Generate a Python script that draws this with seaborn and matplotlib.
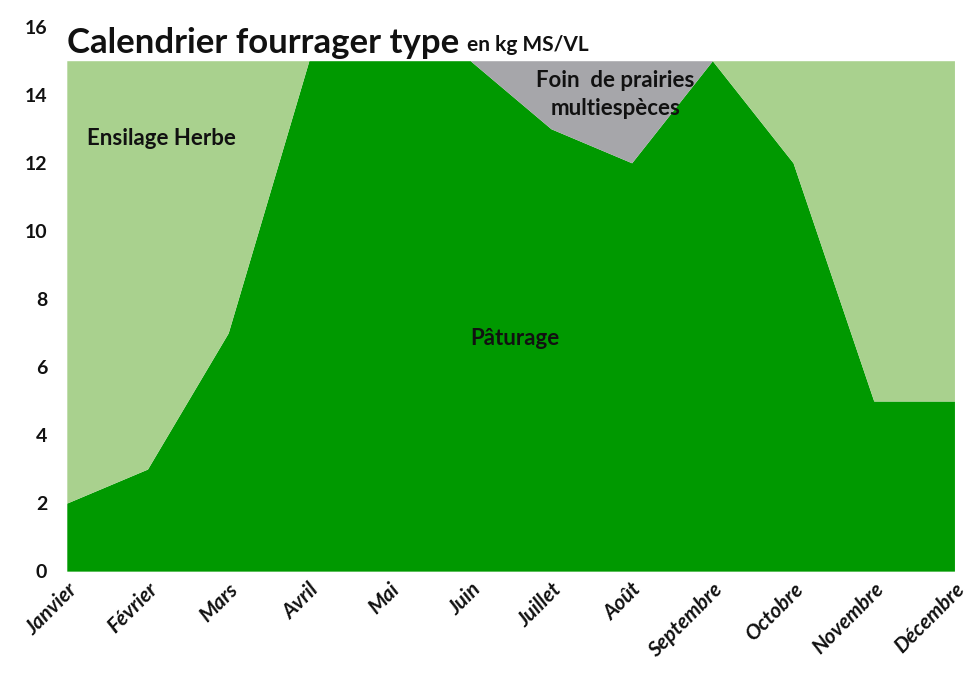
import numpy as np
import pandas as pd
import matplotlib
matplotlib.use("Agg")
import matplotlib.pyplot as plt
import seaborn as sns

mois = ['Janvier', 'Février', 'Mars', 'Avril', 'Mai', 'Juin', 'Juillet',
        'Août', 'Septembre', 'Octobre', 'Novembre', 'Décembre']
paturage = [2, 3, 7, 15, 15, 15, 13, 12, 15, 12, 5, 5]
foin = [0, 0, 0, 0, 0, 0, 2, 3, 0, 0, 0, 0]
ensilage = [13, 12, 8, 0, 0, 0, 0, 0, 0, 3, 10, 10]

sns.set_theme(style="white")
plt.rcParams['font.family'] = ['Lato', 'DejaVu Sans']
plt.rcParams['text.color'] = '#111111'
plt.rcParams['xtick.color'] = '#111111'
plt.rcParams['ytick.color'] = '#111111'

df = pd.DataFrame({'mois': mois, 'Pâturage': paturage,
                   'Foin': foin, 'Ensilage': ensilage})

fig = plt.figure(figsize=(9.68, 6.84), dpi=100)
# right edge pulled in a little so "Décembre" is not clipped
ax = fig.add_axes([0.069, 0.165, 0.917, 0.796])

x = np.arange(len(df))
ax.stackplot(x, df['Pâturage'], df['Foin'], df['Ensilage'],
             colors=['#009900', '#a6a6aa', '#a9d18e'], linewidth=0)

ax.set_xlim(0, len(df) - 1)
ax.set_ylim(0, 16)
ax.set_yticks(range(0, 17, 2))
ax.set_xticks(x)
ax.set_xticklabels(df['mois'], rotation=45, ha='right', rotation_mode='anchor',
                   fontweight='bold', fontstyle='italic', fontsize=15)
for lab in ax.get_yticklabels():
    lab.set_fontweight('bold')
    lab.set_fontsize(14)
ax.tick_params(axis='y', length=0, pad=14)
ax.tick_params(axis='x', length=0, pad=6)
sns.despine(ax=ax, left=True, bottom=True)

ax.text(0.25, 12.7, 'Ensilage Herbe', fontsize=16, fontweight='bold', va='center')
ax.text(5.55, 6.85, 'Pâturage', fontsize=16, fontweight='bold', ha='center', va='center')
ax.text(6.8, 14.0, 'Foin  de prairies\nmultiespèces', fontsize=16, fontweight='bold',
        ha='center', va='center', linespacing=1.4)

fig.text(0.069, 0.937, 'Calendrier fourrager type', fontsize=25, fontweight='bold',
         va='center')
fig.text(0.482, 0.934, 'en kg MS/VL', fontsize=15, fontweight='bold', va='center')

fig.savefig('out.png', dpi=100)
